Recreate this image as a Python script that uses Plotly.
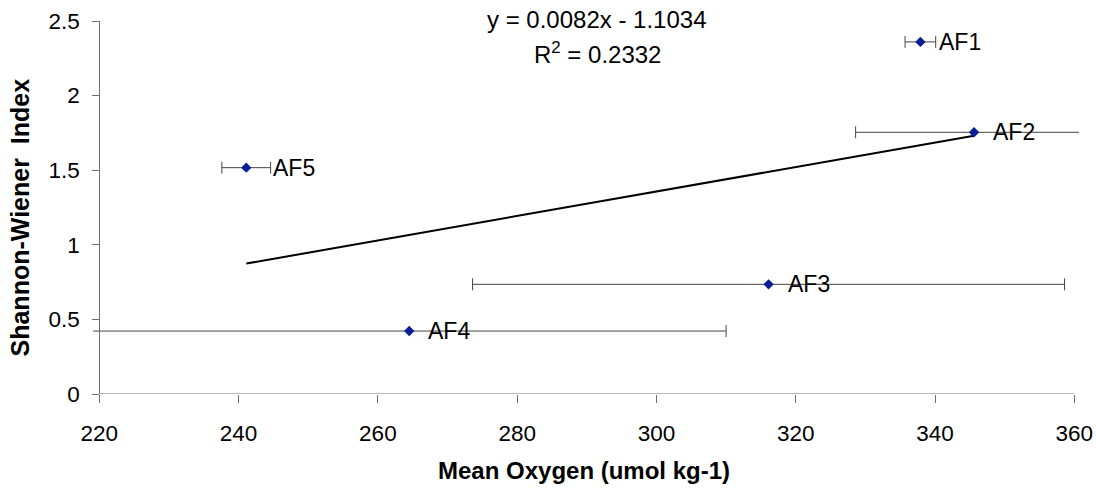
import plotly.graph_objects as go

# ---- data ----
sites = ["AF1", "AF2", "AF3", "AF4", "AF5"]
oxygen = [337.9, 345.6, 316.1, 264.5, 241.1]
shannon = [2.36, 1.754, 0.735, 0.422, 1.517]
oxygen_err = [2.2, 17.0, 42.5, 45.5, 3.5]

trend_x = [241.1, 345.6]
trend_y = [0.874, 1.731]

x_ticks = [220, 240, 260, 280, 300, 320, 340, 360]
y_ticks = [0, 0.5, 1, 1.5, 2, 2.5]
y_ticktext = ["0", "0.5", "1", "1.5", "2", "2.5"]

eq_text = "y = 0.0082x - 1.1034"
r2_text = "R<sup>2</sup> = 0.2332"
x_title = "Mean Oxygen (umol kg-1)"
y_title = "Shannon-Wiener  Index"

FONT = "Liberation Sans, Arial, sans-serif"
AX = "#707070"
FIG_W, FIG_H = 1096, 491
label_shift = {"AF5": 25}

fig = go.Figure()

fig.add_trace(go.Scatter(
    x=trend_x, y=trend_y, mode="lines",
    line=dict(color="black", width=2), showlegend=False, hoverinfo="skip"))

fig.add_trace(go.Scatter(
    x=oxygen, y=shannon, mode="markers",
    marker=dict(symbol="diamond", size=8, color="#0a1f96"),
    error_x=dict(type="data", array=oxygen_err, color="#444444", thickness=1, width=6),
    showlegend=False))

for name, xv, yv in zip(sites, oxygen, shannon):
    fig.add_annotation(x=xv, y=yv, text=name, showarrow=False, xanchor="left",
                       yanchor="middle", xshift=label_shift.get(name, 17),
                       font=dict(family=FONT, size=23, color="black"))

# target geometry (reference pixels)
AX_LEFT, AX_RIGHT = 99.3, 1074.0
PLOT_L, PLOT_R, PLOT_T, PLOT_B = 93, 1078.7, 21, 394
L = PLOT_L
T = PLOT_T
R = FIG_W - PLOT_R
B = FIG_H - PLOT_B
pw = PLOT_R - PLOT_L
ph = PLOT_B - PLOT_T
px_per = (AX_RIGHT - AX_LEFT) / 140.0
x_lo = 220 - (AX_LEFT - PLOT_L) / px_per
x_hi = 360 + (PLOT_R - AX_RIGHT) / px_per


def px(xp):
    return (xp - PLOT_L) / pw


def py(yp):
    return (PLOT_B - yp) / ph


fig.add_shape(type="line", xref="x", yref="y", x0=220, x1=360, y0=0, y1=0,
              line=dict(color=AX, width=1))

fig.add_annotation(xref="paper", yref="paper", x=px(597), y=py(19),
                   text=eq_text, showarrow=False, xanchor="center", yanchor="middle",
                   font=dict(family=FONT, size=24, color="black"))
fig.add_annotation(xref="paper", yref="paper", x=px(597), y=py(53),
                   text=r2_text, showarrow=False, xanchor="center", yanchor="middle",
                   font=dict(family=FONT, size=24, color="black"))

fig.add_annotation(xref="paper", yref="paper", x=px(584), y=py(471),
                   text="<b>" + x_title + "</b>", showarrow=False, xanchor="center",
                   yanchor="middle", font=dict(family=FONT, size=24, color="black"))
fig.add_annotation(xref="paper", yref="paper", x=px(20), y=py(217.5),
                   text="<b>" + y_title + "</b>", showarrow=False, textangle=-90,
                   xanchor="center", yanchor="middle",
                   font=dict(family=FONT, size=25, color="black"))

fig.update_layout(
    width=FIG_W, height=FIG_H,
    margin=dict(l=L, r=R, t=T, b=B, pad=0, autoexpand=False),
    plot_bgcolor="white", paper_bgcolor="white",
    font=dict(family=FONT, size=22.5, color="black"),
    hovermode=False,
    xaxis=dict(range=[x_lo, x_hi], tickvals=x_ticks, ticks="outside", ticklen=8,
               tickcolor=AX, showline=False, showgrid=False, zeroline=False,
               ticklabelstandoff=11, tickfont=dict(size=22.5), automargin=False),
    yaxis=dict(range=[0, 2.5], tickvals=y_ticks, ticktext=y_ticktext, ticks="outside",
               ticklen=7, tickcolor=AX, showline=True, linecolor=AX, linewidth=1,
               showgrid=False, zeroline=False, anchor="free",
               position=px(AX_LEFT), ticklabelstandoff=8, tickfont=dict(size=22.5),
               automargin=False),
)

fig.write_html("out.html",
               config={"displayModeBar": False, "staticPlot": True},
               post_script="document.body.style.margin='0';document.body.style.overflow='hidden';")
